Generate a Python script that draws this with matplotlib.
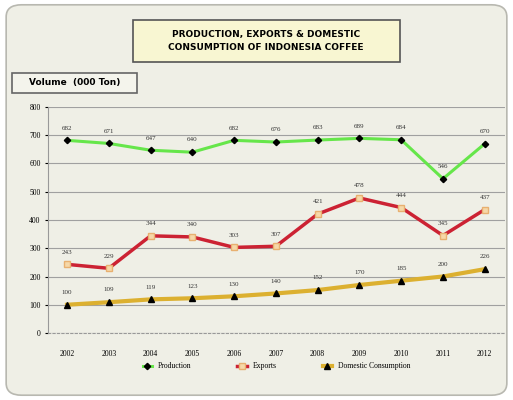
import numpy as np
import matplotlib.pyplot as plt
from matplotlib.patches import FancyBboxPatch, Rectangle

years = ["2002", "2003", "2004", "2005", "2006", "2007", "2008", "2009", "2010", "2011", "2012"]
production = [682, 671, 647, 640, 682, 676, 683, 689, 684, 546, 670]
exports = [243, 229, 344, 340, 303, 307, 421, 478, 444, 345, 437]
domestic = [100, 109, 119, 123, 130, 140, 152, 170, 185, 200, 226]

bg = "#efefe6"
x = np.arange(len(years))

fig = plt.figure(figsize=(5.13, 4.0), dpi=100)
fig.patch.set_facecolor("white")

# rounded outer frame, kept behind the axes
frame = FancyBboxPatch((0.012, 0.012), 0.976, 0.976, boxstyle="round,pad=0,rounding_size=0.03",
                       transform=fig.transFigure, facecolor=bg, edgecolor="#b8b8b0", linewidth=1.2,
                       zorder=-10)
fig.patches.append(frame)

ax = fig.add_axes([0.094, 0.1675, 0.89, 0.565])
ax.set_facecolor(bg)

ax.plot(x, production, color="#66e64a", linewidth=2.2, marker="D", markersize=3.2,
        markerfacecolor="black", markeredgecolor="black", label="Production", zorder=3)
ax.plot(x, exports, color="#cc2233", linewidth=2.5, marker="s", markersize=4.5,
        markerfacecolor="#f6d8a8", markeredgecolor="#e8b070", label="Exports", zorder=3)
ax.plot(x, domestic, color="#dcb030", linewidth=3, marker="^", markersize=3.8,
        markerfacecolor="black", markeredgecolor="black", label="Domestic Consumption", zorder=3)

for series in (production, exports, domestic):
    for i, v in enumerate(series):
        ax.annotate(str(v), (x[i], v), xytext=(0, 7), textcoords="offset points",
                    ha="center", va="bottom", fontsize=5, color="#333333",
                    family="Liberation Serif")

ax.set_xlim(-0.45, 10.48)
ax.set_ylim(0, 800)
ax.set_yticks(range(0, 801, 100))
ax.set_xticks(x)
ax.set_xticklabels(years, fontsize=5.5, family="Liberation Serif")
ax.tick_params(axis="y", labelsize=5.5, length=2)
ax.tick_params(axis="x", length=0, pad=12)
for lab in ax.get_yticklabels():
    lab.set_family("Liberation Serif")
ax.grid(axis="y", color="#a0a0a0", linewidth=0.8)
ax.set_axisbelow(True)
for s in ("top", "right"):
    ax.spines[s].set_visible(False)
ax.spines["left"].set_color("#999999")
ax.spines["bottom"].set_color("#999999")
ax.spines["bottom"].set_linestyle((0, (2, 2)))

leg = ax.legend(loc="upper center", bbox_to_anchor=(0.5, -0.1), ncol=3, frameon=False,
                handlelength=1.2, columnspacing=6,
                prop={"family": "Liberation Serif", "size": 5.5})

# title box
fig.patches.append(Rectangle((0.259, 0.845), 0.52, 0.105, transform=fig.transFigure,
                             facecolor="#f8f6d2", edgecolor="#555555", linewidth=1.2))
fig.text(0.519, 0.8975, "PRODUCTION, EXPORTS & DOMESTIC\nCONSUMPTION OF INDONESIA COFFEE",
         ha="center", va="center", fontsize=6.5, fontweight="bold", linespacing=1.5)

# axis unit box
fig.patches.append(Rectangle((0.023, 0.7675), 0.244, 0.05, transform=fig.transFigure,
                             facecolor="#f4f4ec", edgecolor="#666666", linewidth=1.2))
fig.text(0.145, 0.7925, "Volume  (000 Ton)", ha="center", va="center", fontsize=6.5,
         fontweight="bold")

fig.savefig("out.png", dpi=100, facecolor=fig.get_facecolor())
